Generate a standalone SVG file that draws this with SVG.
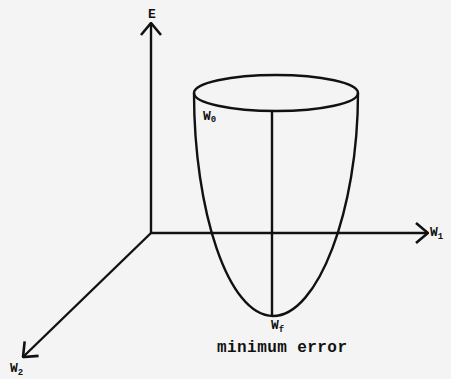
<svg xmlns="http://www.w3.org/2000/svg" width="451" height="379" viewBox="0 0 451 379">
<style>
.ax{stroke:#111;stroke-width:2.4;fill:none}
.ln{stroke:#111;stroke-width:2.4;fill:none}
.t{font-family:"Liberation Mono",monospace;font-weight:bold;fill:#111;font-size:13px}
.s{font-size:9px}
.m{font-size:16px}
</style>
<defs>
<marker id="ah" viewBox="0 0 14 24" refX="13" refY="12" markerWidth="14" markerHeight="24" markerUnits="userSpaceOnUse" orient="auto">
<path d="M1,2 L13,12 L1,22" fill="none" stroke="#111" stroke-width="2.6"/>
</marker>
</defs>
<rect width="451" height="379" fill="#f4f4f4"/>
<g id="connectors">
<line class="ax" x1="151" y1="233" x2="151" y2="23" marker-end="url(#ah)"/>
<line class="ax" x1="151" y1="233" x2="428" y2="233" marker-end="url(#ah)"/>
<line class="ax" x1="151" y1="233" x2="23" y2="357" marker-end="url(#ah)"/>
</g>
<g id="bowl">
<ellipse class="ln" cx="276" cy="93" rx="82" ry="18"/>
<path class="ln" d="M194,93 C194,210 228,316 273,316 C318,316 358,210 358,93"/>
<line class="ln" x1="272" y1="111" x2="272" y2="316"/>
</g>
<g id="label-E"><text class="t" x="148" y="18">E</text></g>
<g id="label-W1"><text class="t" x="430" y="236">W<tspan class="s" dy="3">1</tspan></text></g>
<g id="label-W2"><text class="t" x="10" y="372">W<tspan class="s" dy="3">2</tspan></text></g>
<g id="label-W0"><text class="t" x="203" y="120">W<tspan class="s" dy="2">0</tspan></text></g>
<g id="label-Wf"><text class="t" x="271" y="329">W<tspan class="s" dy="3">f</tspan></text></g>
<g id="label-min"><text class="t m" x="217" y="352" textLength="130">minimum error</text></g>
</svg>
